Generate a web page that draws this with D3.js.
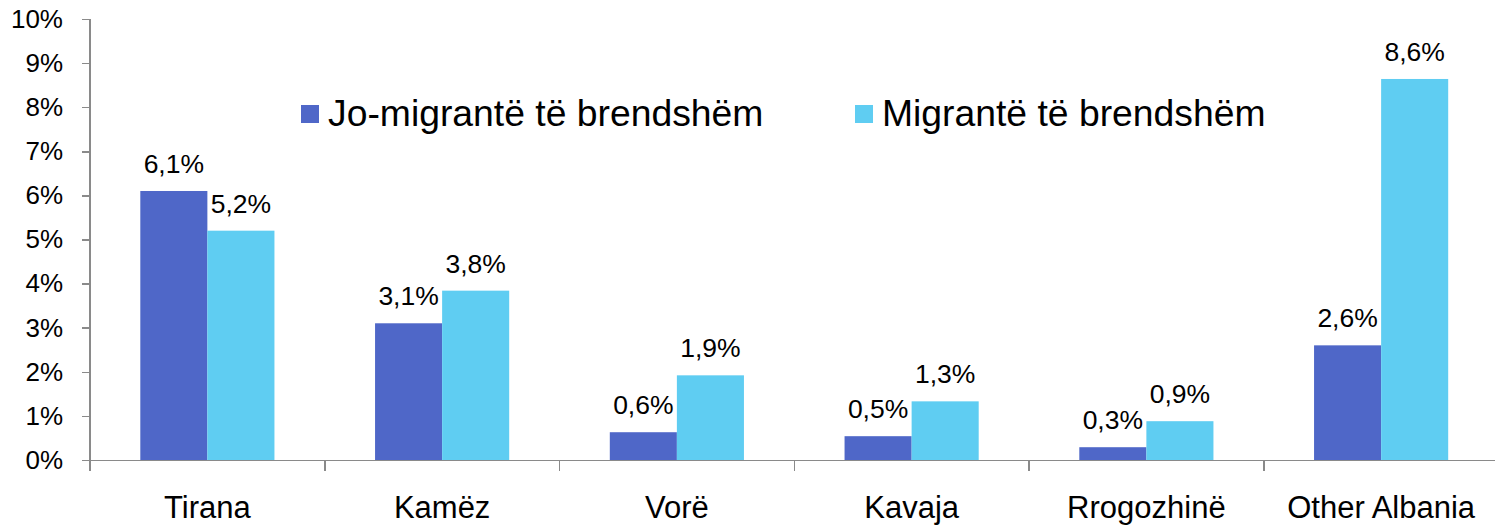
<!DOCTYPE html>
<html lang="sq">
<head>
<meta charset="UTF-8">
<title>Migrantë të brendshëm</title>
<script src="https://d3js.org/d3.v7.min.js"></script>
<style>
body { margin: 0; background: #fff; font-family: "Liberation Sans", Arial, sans-serif; }
.axis path, .axis line { stroke: #8a8a8a; stroke-width: 1.5px; shape-rendering: crispEdges; }
.axis text { fill: #000; font-family: "Liberation Sans", Arial, sans-serif; }
</style>
</head>
<body>
<script>
// data
var categories = ["Tirana", "Kamëz", "Vorë", "Kavaja", "Rrogozhinë", "Other Albania"];
var seriesNames = ["Jo-migrantë të brendshëm", "Migrantë të brendshëm"];
var nonMigrants = [6.1, 3.1, 0.63, 0.54, 0.29, 2.6];
var migrants = [5.2, 3.84, 1.92, 1.33, 0.88, 8.64];
var yTicks = [0, 1, 2, 3, 4, 5, 6, 7, 8, 9, 10];
var colors = ["#4f67c8", "#5fcdf2"];

var W = 1495, H = 526;
var margin = {top: 19, right: -3.5, bottom: 66, left: 90};

var svg = d3.select("body").append("svg")
    .attr("width", W)
    .attr("height", H);

var x = d3.scaleBand()
    .domain(categories)
    .range([margin.left, W - margin.right])
    .padding(0);

var x1 = d3.scaleBand()
    .domain(seriesNames)
    .range([0, x.bandwidth()])
    .paddingInner(0)
    .paddingOuter(0.75);

var y = d3.scaleLinear()
    .domain([0, 10])
    .range([H - margin.bottom, margin.top]);

var rows = categories.map(function(c, i) {
    return {cat: c, vals: [nonMigrants[i], migrants[i]]};
});

// bars
var groups = svg.selectAll(".grp")
    .data(rows)
    .enter().append("g")
    .attr("class", "grp")
    .attr("transform", function(d) { return "translate(" + x(d.cat) + ",0)"; });

groups.selectAll("rect")
    .data(function(d) { return d.vals.map(function(v, k) { return {key: seriesNames[k], v: v, k: k}; }); })
    .enter().append("rect")
    .attr("x", function(d) { return x1(d.key); })
    .attr("y", function(d) { return y(d.v); })
    .attr("width", x1.bandwidth())
    .attr("height", function(d) { return y(0) - y(d.v); })
    .attr("fill", function(d) { return colors[d.k]; });

// value labels
groups.selectAll("text.val")
    .data(function(d) { return d.vals.map(function(v, k) { return {key: seriesNames[k], v: v}; }); })
    .enter().append("text")
    .attr("class", "val")
    .attr("x", function(d) { return x1(d.key) + x1.bandwidth() / 2; })
    .attr("y", function(d) { return y(d.v) - 18; })
    .attr("text-anchor", "middle")
    .style("font-size", "26.5px")
    .text(function(d) { return d.v.toFixed(1).replace(".", ",") + "%"; });

// y axis
svg.append("g")
    .attr("class", "axis y")
    .attr("transform", "translate(" + margin.left + ",0)")
    .call(d3.axisLeft(y)
        .tickValues(yTicks)
        .tickFormat(function(d) { return d + "%"; })
        .tickSize(8)
        .tickSizeOuter(0)
        .tickPadding(19))
    .call(function(g) { g.selectAll("text").style("font-size", "26px"); })
    .call(function(g) { g.select(".domain").attr("d", "M0," + margin.top + "V" + (y(0) + 11)); });

// x axis: category boundary ticks
var bounds = categories.map(function(c) { return x(c); }).slice(1).concat([x.range()[1]]);
svg.append("g")
    .attr("class", "axis")
    .selectAll("line")
    .data(bounds)
    .enter().append("line")
    .attr("x1", function(d) { return d; })
    .attr("x2", function(d) { return d; })
    .attr("y1", y(0))
    .attr("y2", y(0) + 11);

svg.append("g")
    .attr("class", "axis x")
    .attr("transform", "translate(0," + y(0) + ")")
    .call(d3.axisBottom(x).tickSize(0).tickSizeOuter(0).tickPadding(36))
    .call(function(g) { g.selectAll("text").style("font-size", "31px"); });

// legend
var legend = svg.append("g").attr("class", "legend");
var legendX = [301, 855];
seriesNames.forEach(function(name, k) {
    legend.append("rect")
        .attr("x", legendX[k])
        .attr("y", 105)
        .attr("width", 18)
        .attr("height", 18)
        .attr("fill", colors[k]);
    legend.append("text")
        .attr("x", legendX[k] + 27)
        .attr("y", 126)
        .style("font-size", "37.3px")
        .text(name);
});
</script>
</body>
</html>
